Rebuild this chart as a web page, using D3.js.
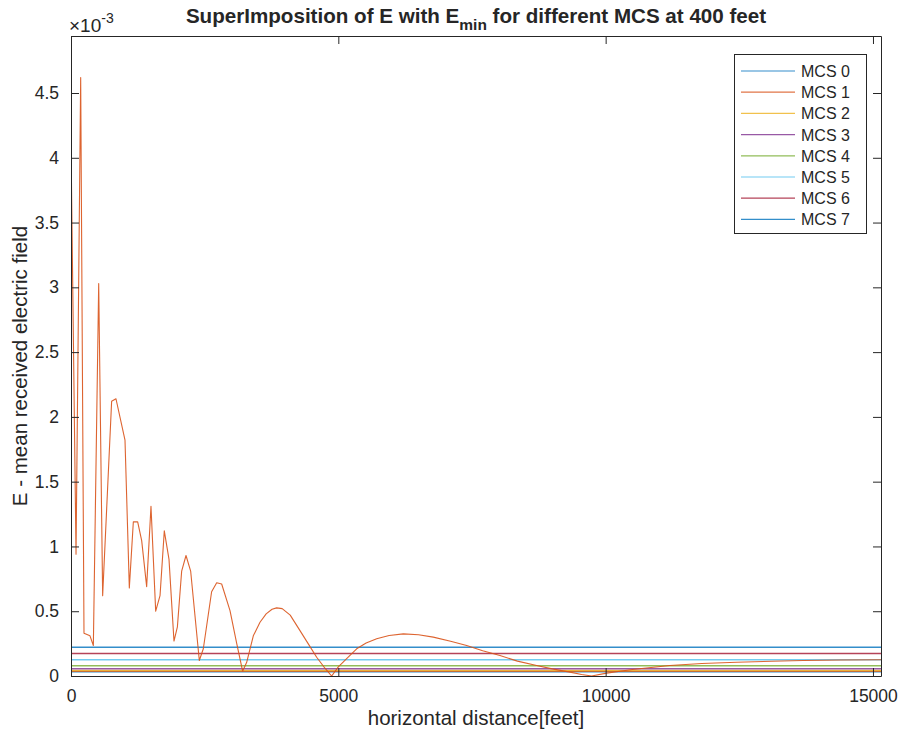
<!DOCTYPE html>
<html>
<head>
<meta charset="utf-8">
<script src="https://cdn.jsdelivr.net/npm/d3@7"></script>
<style>
  html, body { margin: 0; padding: 0; background: #fff; }
  svg { display: block; }
  text { font-family: "Liberation Sans", Arial, Helvetica, sans-serif; fill: #262626; }
</style>
</head>
<body>
<svg id="chart" width="903" height="737"></svg>
<script>
// ---- data (values in units of 1e-3) ----
const distance = [0, 94, 181, 243, 355, 418, 518, 592, 760, 841, 1010, 1091, 1166, 1247, 1322, 1415, 1496, 1584, 1665, 1745, 1833, 1926, 1990, 2070, 2151, 2238, 2400, 2475, 2630, 2725, 2818, 2974, 3100, 3210, 3286, 3410, 3535, 3650, 3760, 3846, 3950, 4100, 4283, 4450, 4595, 4750, 4875, 5000, 5170, 5343, 5520, 5717, 5950, 6215, 6500, 6776, 7100, 7400, 7700, 8023, 8350, 8709, 9000, 9332, 9550, 9737, 10018, 10500, 11200, 11800, 12450, 13100, 13695, 14400, 15150];
const fieldE = [4.10, 0.94, 4.62, 0.33, 0.31, 0.235, 3.03, 0.62, 2.12, 2.14, 1.82, 0.68, 1.19, 1.19, 1.045, 0.69, 1.31, 0.50, 0.62, 1.12, 0.90, 0.27, 0.38, 0.81, 0.93, 0.81, 0.12, 0.21, 0.65, 0.72, 0.71, 0.505, 0.25, 0.037, 0.106, 0.31, 0.415, 0.48, 0.515, 0.526, 0.52, 0.47, 0.35, 0.24, 0.145, 0.06, 0.0, 0.07, 0.14, 0.21, 0.255, 0.287, 0.313, 0.325, 0.318, 0.30, 0.268, 0.235, 0.195, 0.158, 0.115, 0.081, 0.055, 0.03, 0.012, 0.0, 0.022, 0.05, 0.081, 0.096, 0.106, 0.114, 0.12, 0.123, 0.125];
const mcsNames = ["MCS 0", "MCS 1", "MCS 2", "MCS 3", "MCS 4", "MCS 5", "MCS 6", "MCS 7"];
const eMin = [0.033, 0.037, 0.042, 0.056, 0.079, 0.125, 0.173, 0.221];
const mcsColors = ["#0072BD", "#D95319", "#EDB120", "#7E2F8E", "#77AC30", "#4DBEEE", "#A2142F", "#0072BD"];
const curveColor = "#D95319";
const xTicks = [0, 5000, 10000, 15000];
const yTicks = [0, 0.5, 1, 1.5, 2, 2.5, 3, 3.5, 4, 4.5];
const xDomain = [0, 15150];
const yDomain = [0, 4.94];

// ---- layout ----
const svg = d3.select("#chart");
const L = 71, R = 881, T = 36, B = 676;
const x = d3.scaleLinear().domain(xDomain).range([L, R]);
const y = d3.scaleLinear().domain(yDomain).range([B, T]);
const axisColor = "#262626";
const tickLen = 8;

// clip
svg.append("clipPath").attr("id", "clip").append("rect")
  .attr("x", L).attr("y", T).attr("width", R - L).attr("height", B - T);

const plot = svg.append("g").attr("clip-path", "url(#clip)");

// horizontal E_min lines
const lineGen = d3.line().x(d => x(d[0])).y(d => y(d[1]));
eMin.forEach((v, i) => {
  plot.append("path")
    .datum([[xDomain[0], v], [xDomain[1], v]])
    .attr("d", lineGen)
    .attr("fill", "none")
    .attr("stroke", mcsColors[i])
    .attr("stroke-opacity", 0.8)
    .attr("stroke-width", 1.5);
});

// E curve
plot.append("path")
  .datum(distance.map((d, i) => [d, fieldE[i]]))
  .attr("d", lineGen)
  .attr("fill", "none")
  .attr("stroke", curveColor)
  .attr("stroke-opacity", 0.9)
  .attr("stroke-width", 1.1)
  .attr("stroke-linejoin", "round");

// axes
function styleAxis(g) {
  g.selectAll("path.domain").attr("stroke", axisColor).attr("stroke-width", 1);
  g.selectAll(".tick line").attr("stroke", axisColor).attr("stroke-width", 1);
  g.selectAll(".tick text").attr("fill", axisColor)
    .style("font-family", '"Liberation Sans", Arial, sans-serif').style("font-size", "17.5px");
}
const xAxis = svg.append("g").attr("transform", `translate(0,${B})`)
  .call(d3.axisBottom(x).tickValues(xTicks).tickFormat(d3.format("d")).tickSizeInner(-tickLen).tickSizeOuter(0).tickPadding(14));
styleAxis(xAxis);
const xAxisTop = svg.append("g").attr("transform", `translate(0,${T})`)
  .call(d3.axisTop(x).tickValues(xTicks).tickFormat("").tickSizeInner(-tickLen).tickSizeOuter(0));
styleAxis(xAxisTop);
const yAxis = svg.append("g").attr("transform", `translate(${L},0)`)
  .call(d3.axisLeft(y).tickValues(yTicks).tickFormat(d => String(d)).tickSizeInner(-tickLen).tickSizeOuter(0).tickPadding(12));
styleAxis(yAxis);
const yAxisRight = svg.append("g").attr("transform", `translate(${R},0)`)
  .call(d3.axisRight(y).tickValues(yTicks).tickFormat("").tickSizeInner(-tickLen).tickSizeOuter(0));
styleAxis(yAxisRight);

// exponent label
const exp = svg.append("text").attr("x", 69).attr("y", 32).style("font-size", "19px");
exp.append("tspan").text("×10");
exp.append("tspan").attr("dy", -9).style("font-size", "14px").text("-3");

// title
const title = svg.append("text").attr("x", (L + R) / 2).attr("y", 23)
  .attr("text-anchor", "middle").style("font-size", "20.6px").style("font-weight", "bold");
title.append("tspan").text("SuperImposition of E with E");
title.append("tspan").attr("dy", 7).style("font-size", "15.5px").text("min");
title.append("tspan").attr("dy", -7).text(" for different MCS at 400 feet");

// axis labels
svg.append("text").attr("x", (L + R) / 2).attr("y", 725)
  .attr("text-anchor", "middle").style("font-size", "20.5px").text("horizontal distance[feet]");
svg.append("text").attr("transform", `translate(27,366) rotate(-90)`)
  .attr("text-anchor", "middle").style("font-size", "20.5px").text("E - mean received electric field");

// legend
const lg = svg.append("g");
lg.append("rect").attr("x", 734.5).attr("y", 54.5).attr("width", 132).attr("height", 179)
  .attr("fill", "#fff").attr("stroke", axisColor).attr("stroke-width", 1);
mcsNames.forEach((name, i) => {
  const yy = 71 + i * 21.2;
  lg.append("line").attr("x1", 741).attr("x2", 795).attr("y1", yy).attr("y2", yy)
    .attr("stroke", mcsColors[i]).attr("stroke-opacity", 0.8).attr("stroke-width", 1.2);
  lg.append("text").attr("x", 801).attr("y", yy + 6).style("font-size", "16px").text(name);
});
</script>
</body>
</html>
